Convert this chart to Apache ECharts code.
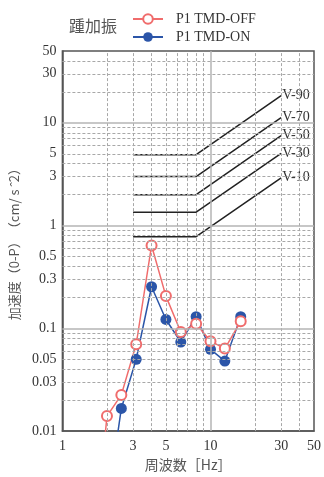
<!DOCTYPE html>
<html><head><meta charset="utf-8">
<script src="https://cdn.jsdelivr.net/npm/echarts@6/dist/echarts.min.js"></script>
<style>html,body{margin:0;padding:0;background:#fff}#c{width:324px;height:477px}</style>
</head><body><div id="c"></div>
<script>
// ---- data ----
const freqOff = [1.6, 2, 2.5, 3.15, 4, 5, 6.3, 8, 10, 12.5, 16];
const accOff  = [0.0005, 0.014, 0.0225, 0.07, 0.64, 0.206, 0.092, 0.111, 0.075, 0.0635, 0.117];
const freqOn  = [2, 2.5, 3.15, 4, 5, 6.3, 8, 10, 12.5, 16];
const accOn   = [0.0018, 0.0166, 0.05, 0.254, 0.122, 0.0736, 0.13, 0.0625, 0.048, 0.13];
const vNames  = ['V-10', 'V-30', 'V-50', 'V-70', 'V-90'];
const vFlat   = [0.78, 1.35, 2.0, 3.0, 4.9];      // level between 3 and 8 Hz
const vFreqs  = [3, 8, 30];                        // corner frequencies
const vEnd    = [2.92, 5.05, 7.5, 11.25, 18.4];    // level at 30 Hz
const xTickLabels = [1, 3, 5, 10, 30, 50];
const yTickLabels = [0.01, 0.03, 0.05, 0.1, 0.3, 0.5, 1, 3, 5, 10, 30, 50];
const xMinorGrid = [2, 3, 4, 5, 6, 7, 8, 9, 20, 30, 40];
const xMajorGrid = [10];
const yMinorGrid = [0.02,0.03,0.04,0.05,0.06,0.07,0.08,0.09,0.2,0.3,0.4,0.5,0.6,0.7,0.8,0.9,2,3,4,5,6,7,8,9,20,30,40];
const yMajorGrid = [0.1, 1, 10];

const serif = 'Liberation Serif';
const cjk = 'Noto Sans CJK JP';
const fmt = v => String(+(+v).toPrecision(3));

const gridLines = [];
xMinorGrid.forEach(v => gridLines.push({xAxis: v, lineStyle: {type: [3, 2], color: '#a8a8a8', width: 1}}));
yMinorGrid.forEach(v => gridLines.push({yAxis: v, lineStyle: {type: [3, 2], color: '#a8a8a8', width: 1}}));
xMajorGrid.forEach(v => gridLines.push({xAxis: v, lineStyle: {type: 'solid', color: '#b5b5b5', width: 1.5}}));
yMajorGrid.forEach(v => gridLines.push({yAxis: v, lineStyle: {type: 'solid', color: '#b5b5b5', width: 1.5}}));

const series = [{
  type: 'line', data: [], silent: true,
  markLine: {silent: true, symbol: 'none', animation: false, label: {show: false}, data: gridLines}
}];
vNames.forEach((n, i) => {
  const lv = [vFlat[i], vFlat[i], vEnd[i]];
  series.push({
    type: 'line', name: n, silent: true, symbol: 'none', animation: false,
    lineStyle: {color: '#222', width: 1.5},
    endLabel: {show: true, formatter: n, distance: 1, fontFamily: serif, fontSize: 14, color: '#333'},
    data: vFreqs.map((f, j) => [f, lv[j]])
  });
});
series.push({
  name: 'P1 TMD-ON', type: 'line', data: freqOn.map((f, i) => [f, accOn[i]]),
  symbol: 'circle', symbolSize: 11, clip: true, animation: false,
  itemStyle: {color: '#2b55a8'}, lineStyle: {color: '#2b55a8', width: 1.5}
});
series.push({
  name: 'P1 TMD-OFF', type: 'line', data: freqOff.map((f, i) => [f, accOff[i]]),
  symbol: 'emptyCircle', symbolSize: 10, clip: true, animation: false,
  itemStyle: {color: '#f06c6c', borderWidth: 1.3}, lineStyle: {color: '#f06c6c', width: 1.5}
});

const chart = echarts.init(document.getElementById('c'));
chart.setOption({
  animation: false,
  title: {text: '踵加振', left: 64, top: 13, textStyle: {fontFamily: cjk, fontSize: 16, fontWeight: 'normal', color: '#555'}},
  legend: {
    data: ['P1 TMD-OFF', 'P1 TMD-ON'], orient: 'vertical', left: 127, top: 7,
    itemWidth: 30, itemHeight: 12, itemGap: 4,
    textStyle: {fontFamily: serif, fontSize: 14, color: '#333', padding: [0, 0, 0, 8]}
  },
  grid: {left: 59, right: 6, top: 51, bottom: 45, show: true, borderColor: '#555', borderWidth: 1.5},
  xAxis: {
    type: 'log', logBase: 10, min: 1, max: 50,
    name: '周波数［Hz］', nameLocation: 'middle', nameGap: 26,
    nameTextStyle: {fontFamily: cjk, fontSize: 14, color: '#555'},
    axisLine: {show: true, lineStyle: {color: '#555', width: 1.5}},
    axisTick: {show: false}, splitLine: {show: false},
    axisLabel: {customValues: xTickLabels, formatter: fmt, fontFamily: serif, fontSize: 14, color: '#333', margin: 8}
  },
  yAxis: {
    type: 'log', logBase: 10, min: 0.01, max: 50,
    name: '加速度（0-P）　（cm/ s ˆ2）', nameLocation: 'middle', nameGap: 38, nameRotate: 90,
    nameTextStyle: {fontFamily: cjk, fontSize: 13, color: '#555'},
    axisLine: {show: true, lineStyle: {color: '#555', width: 1.5}},
    axisTick: {show: false}, splitLine: {show: false},
    axisLabel: {customValues: yTickLabels, formatter: fmt, fontFamily: serif, fontSize: 14, color: '#333', margin: 6}
  },
  series: series
});
</script></body></html>
